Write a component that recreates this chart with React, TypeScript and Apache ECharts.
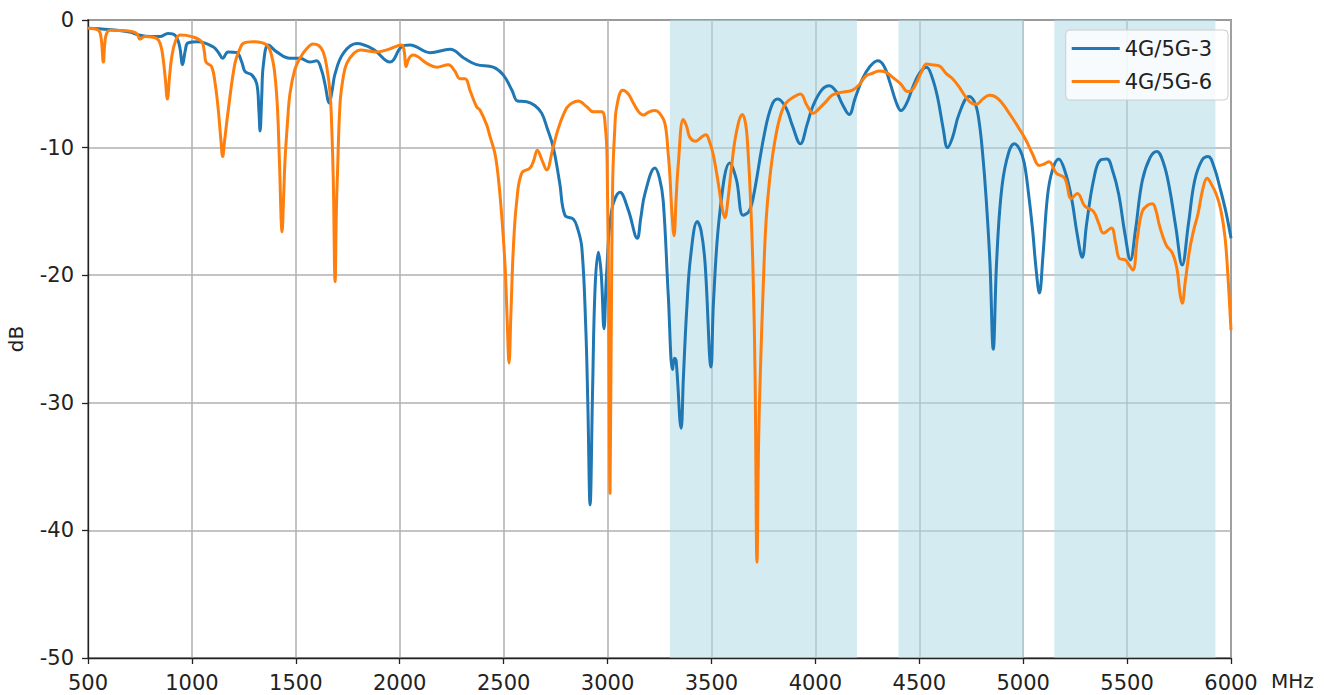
import React, { useEffect, useRef } from "react";
import * as echarts from "echarts";

const seriesNames = ["4G/5G-3", "4G/5G-6"];
const seriesColors = ["#1f77b4", "#ff7f0e"];

const blueFreq = [
  500, 600, 700, 750, 800, 846, 885, 919, 940, 955, 968, 981, 1029, 1102, 1130, 1148, 1174, 1215, 1240, 1256,
  1288, 1312, 1322, 1328, 1336, 1344, 1368, 1408, 1472, 1520, 1568, 1600, 1625, 1640, 1661, 1675, 1689, 1729,
  1793, 1873, 1953, 2009, 2049, 2146, 2242, 2310, 2370, 2450, 2498, 2540, 2567, 2611, 2650, 2683, 2710, 2739,
  2770, 2795, 2835, 2855, 2876, 2895, 2905, 2916, 2928, 2940, 2956, 2970, 2983, 2995, 3020, 3060, 3100, 3143,
  3160, 3180, 3228, 3250, 3268, 3292, 3313, 3322, 3330, 3354, 3365, 3381, 3400, 3432, 3450, 3469, 3498, 3510,
  3541, 3588, 3620, 3652, 3680, 3700, 3755, 3790, 3819, 3859, 3890, 3928, 3960, 3987, 4030, 4067, 4100, 4130,
  4163, 4190, 4227, 4260, 4300, 4330, 4356, 4390, 4412, 4440, 4468, 4500, 4535, 4560, 4588, 4615, 4636, 4660,
  4692, 4740, 4770, 4789, 4805, 4821, 4840, 4856, 4872, 4893, 4920, 4957, 4985, 5005, 5025, 5045, 5062, 5078,
  5095, 5117, 5140, 5171, 5200, 5232, 5260, 5284, 5305, 5338, 5370, 5403, 5430, 5459, 5490, 5516, 5540, 5573,
  5610, 5643, 5675, 5703, 5735, 5765, 5795, 5825, 5860, 5890, 5920, 5946, 5975, 6000,
];
const blueDb = [
  -0.65, -0.75, -0.95, -1.2, -1.3, -1.3, -1.05, -1.2, -2.0, -3.5, -2.4, -1.8, -1.7, -2.1, -2.6, -3.0, -2.5, -2.55, -3.3, -4.05,
  -4.3, -5.0, -7.0, -8.7, -6.0, -3.5, -1.96, -2.5, -3.0, -3.0, -3.3, -3.2, -4.0, -5.0, -6.5, -5.5, -4.2, -2.6,
  -1.85, -2.3, -3.3, -2.1, -1.96, -2.56, -2.3, -3.0, -3.5, -3.7, -4.3, -5.5, -6.35, -6.4, -6.7, -7.3, -8.5, -10.0,
  -12.8, -15.3, -15.6, -16.3, -17.8, -24, -30, -38.0, -29, -21, -18.2, -20, -24.2, -20, -14.9, -13.5, -14.9, -17.1,
  -15.5, -13.6, -11.6, -12.4, -14.2, -21.5, -27.4, -26.5, -26.7, -32.0, -28, -22.7, -18.5, -15.8, -16.5, -19.0, -27.2, -22,
  -15.0, -11.2, -12.5, -15.3, -15.0, -14.0, -8.9, -6.7, -6.2, -6.9, -8.3, -9.7, -8.2, -6.8, -5.5, -5.15, -5.6, -6.6,
  -7.4, -6.2, -4.6, -3.7, -3.2, -3.6, -4.75, -6.5, -7.1, -6.5, -5.3, -4.2, -3.7, -4.4, -6.05, -8.5, -10.0, -9.2,
  -7.35, -6.0, -6.6, -8.1, -10.5, -13.8, -19, -25.8, -19, -13.8, -11.0, -9.7, -10.2, -11.2, -13.5, -16.4, -19.5, -21.4,
  -18.5, -13.8, -11.8, -10.9, -11.8, -13.9, -16.8, -18.6, -16.0, -12.6, -11.0, -10.9, -11.8, -13.6, -16.8, -18.8, -16.5, -12.6,
  -10.8, -10.3, -11.2, -13.1, -16.3, -19.2, -16.0, -12.6, -11.0, -10.7, -11.6, -13.1, -15.0, -17.1,
];

const orangeFreq = [
  500, 550, 563, 574, 585, 606, 686, 734, 750, 774, 830, 850, 862, 872, 882, 892, 903, 920, 943, 999,
  1047, 1060, 1068, 1095, 1112, 1127, 1140, 1148, 1157, 1175, 1207, 1230, 1247, 1295, 1360, 1385, 1400, 1412,
  1421, 1434, 1441, 1448, 1460, 1472, 1495, 1520, 1550, 1584, 1610, 1632, 1650, 1665, 1673, 1680, 1689, 1695,
  1700, 1713, 1728, 1745, 1780, 1809, 1889, 1945, 2009, 2022, 2030, 2045, 2065, 2130, 2178, 2234, 2265, 2290,
  2314, 2340, 2370, 2386, 2418, 2434, 2458, 2474, 2491, 2507, 2517, 2526, 2535, 2547, 2563, 2587, 2627, 2645,
  2662, 2685, 2707, 2735, 2763, 2803, 2830, 2859, 2900, 2932, 2972, 2990, 2998, 3006, 3012, 3018, 3025, 3035,
  3044, 3073, 3100, 3124, 3150, 3172, 3200, 3228, 3250, 3276, 3292, 3300, 3310, 3320, 3330, 3340, 3364, 3380,
  3396, 3425, 3450, 3473, 3490, 3508, 3530, 3550, 3564, 3580, 3596, 3620, 3649, 3665, 3676, 3688, 3700, 3710,
  3719, 3727, 3735, 3750, 3763, 3780, 3803, 3830, 3859, 3900, 3928, 3960, 3990, 4020, 4051, 4080, 4115, 4150,
  4179, 4210, 4243, 4270, 4308, 4340, 4372, 4410, 4444, 4465, 4484, 4510, 4535, 4560, 4596, 4630, 4660, 4690,
  4724, 4750, 4776, 4805, 4837, 4865, 4893, 4920, 4949, 4980, 5013, 5045, 5077, 5100, 5125, 5159, 5200, 5232,
  5261, 5297, 5338, 5365, 5386, 5424, 5445, 5463, 5492, 5510, 5528, 5550, 5573, 5600, 5622, 5640, 5654, 5687,
  5719, 5740, 5755, 5765, 5780, 5800, 5820, 5841, 5865, 5885, 5910, 5930, 5950, 5971, 5985, 6000,
];
const orangeDb = [
  -0.65, -0.8, -1.4, -3.3, -1.3, -0.8, -0.84, -1.05, -1.5, -1.3, -1.44, -2.0, -3.1, -4.6, -6.2, -4.5, -2.9, -1.7, -1.18, -1.3,
  -1.7, -2.5, -3.3, -3.65, -5.0, -7.05, -9.5, -10.7, -9.5, -7.05, -3.4, -2.3, -1.83, -1.7, -1.96, -2.9, -4.4, -7.0,
  -11.0, -16.6, -14.0, -11.0, -8.0, -5.75, -3.9, -3.0, -2.3, -1.88, -2.0, -2.5, -3.8, -5.75, -8.5, -12.3, -20.5, -15.0,
  -12.3, -6.5, -4.5, -3.4, -2.6, -2.35, -2.5, -2.3, -1.96, -2.5, -3.65, -3.0, -2.75, -3.4, -3.7, -3.5, -4.0, -4.6,
  -4.6, -5.6, -6.8, -7.05, -8.2, -9.1, -10.45, -12.3, -15.4, -19.3, -23.5, -26.9, -23, -17.8, -14.2, -12.0, -11.6, -11.0,
  -10.2, -11.0, -11.75, -10.2, -8.5, -6.9, -6.5, -6.35, -6.8, -7.2, -7.2, -8.5, -11.2, -24, -37.1, -24, -12.5, -8.5,
  -6.8, -5.5, -5.8, -6.5, -7.2, -7.45, -7.2, -7.1, -7.3, -8.1, -10.5, -12.2, -15.2, -16.9, -14.0, -11.4, -7.8, -8.3,
  -9.2, -9.5, -9.2, -9.0, -9.5, -10.5, -12.5, -14.6, -15.5, -14.0, -11.6, -8.8, -7.4, -8.2, -10.3, -14.0, -19.7, -28,
  -42.5, -33, -27.8, -20.5, -15.7, -12.5, -9.7, -7.6, -6.5, -6.0, -5.8, -6.7, -7.3, -6.9, -6.4, -5.9, -5.7, -5.6,
  -5.5, -5.1, -4.4, -4.2, -4.0, -4.1, -4.5, -5.0, -5.6, -5.5, -5.0, -4.1, -3.45, -3.5, -3.6, -4.2, -4.6, -5.2,
  -6.05, -6.5, -6.6, -6.2, -5.9, -6.0, -6.4, -7.0, -7.7, -8.5, -9.4, -10.5, -11.4, -11.3, -11.1, -12.0, -12.4, -14.0,
  -13.6, -14.6, -15.0, -16.0, -16.7, -16.3, -17.5, -18.7, -18.8, -19.2, -19.6, -17.0, -15.0, -14.5, -14.4, -15.0, -16.0, -17.6,
  -18.3, -19.5, -21.5, -22.2, -20.5, -18.1, -16.5, -15.2, -13.2, -12.4, -13.0, -13.7, -14.8, -17.0, -20.0, -24.3,
];

const bandStarts = [3300, 4400, 5150];
const bandEnds = [4200, 5000, 5925];

const FONT = "DejaVu Sans";

export default function App() {
  const ref = useRef<HTMLDivElement>(null);
  useEffect(() => {
    if (!ref.current) return;
    const chart = echarts.init(ref.current, null, { renderer: "svg" });
    const pairs = (xs: number[], ys: number[]) => xs.map((x, i) => [x, ys[i]]);
    chart.setOption({
      animation: false,
      backgroundColor: "#ffffff",
      textStyle: { fontFamily: FONT },
      grid: {
        left: 88,
        right: 93,
        top: 20,
        bottom: 37,
        outerBoundsMode: "none",
        containLabel: false,
        show: true,
        borderColor: "#222",
        borderWidth: 1.3,
        backgroundColor: "transparent",
      },
      legend: {
        orient: "vertical",
        right: 96,
        top: 30,
        data: seriesNames,
        icon: "rect",
        itemWidth: 48,
        itemHeight: 3,
        itemGap: 12,
        itemStyle: { borderWidth: 0 },
        itemTextGap: 17,
        padding: [8, 16, 8, 6],
        backgroundColor: "rgba(255,255,255,0.8)",
        borderColor: "#cccccc",
        borderWidth: 1,
        borderRadius: 4,
        textStyle: { fontFamily: FONT, fontSize: 21, color: "#222" },
      },
      xAxis: {
        type: "value",
        min: 500,
        max: 6000,
        interval: 500,
        name: "MHz",
        nameLocation: "end",
        nameGap: 40,
        nameTextStyle: {
          fontFamily: FONT,
          fontSize: 20,
          color: "#222",
          verticalAlign: "top",
          padding: [13, 0, 0, 0],
        },
        axisLine: { show: true, onZero: false, lineStyle: { color: "#222", width: 1.3 } },
        axisTick: { show: true, length: 6, lineStyle: { color: "#222", width: 1.3 } },
        axisLabel: {
          fontFamily: FONT,
          fontSize: 21,
          color: "#222",
          margin: 14,
          formatter: (v: number) => String(v),
        },
        splitLine: { show: true, lineStyle: { color: "#b0b0b0", width: 1.5 } },
      },
      yAxis: {
        type: "value",
        min: -50,
        max: 0,
        interval: 10,
        name: "dB",
        nameLocation: "middle",
        nameGap: 62,
        nameTextStyle: { fontFamily: FONT, fontSize: 20, color: "#222" },
        axisLine: { show: true, onZero: false, lineStyle: { color: "#222", width: 1.3 } },
        axisTick: { show: true, length: 6, lineStyle: { color: "#222", width: 1.3 } },
        axisLabel: {
          fontFamily: FONT,
          fontSize: 21,
          color: "#222",
          margin: 14,
          formatter: (v: number) => String(v),
        },
        splitLine: { show: true, lineStyle: { color: "#b0b0b0", width: 1.5 } },
      },
      series: [
        {
          name: "bands",
          type: "line",
          data: [],
          silent: true,
          z: 1,
          markArea: {
            silent: true,
            itemStyle: { color: "rgba(173,216,230,0.52)" },
            data: bandStarts.map((s, i) => [{ xAxis: s }, { xAxis: bandEnds[i] }]),
          },
        },
        {
          name: seriesNames[0],
          type: "line",
          data: pairs(blueFreq, blueDb),
          showSymbol: false,
          smooth: 0.4,
          z: 3,
          lineStyle: { color: seriesColors[0], width: 3 },
          itemStyle: { color: seriesColors[0] },
        },
        {
          name: seriesNames[1],
          type: "line",
          data: pairs(orangeFreq, orangeDb),
          showSymbol: false,
          smooth: 0.4,
          z: 4,
          lineStyle: { color: seriesColors[1], width: 3 },
          itemStyle: { color: seriesColors[1] },
        },
      ],
    });
    return () => chart.dispose();
  }, []);
  return <div ref={ref} style={{ width: 1324, height: 695, position: "absolute", left: 0, top: 0 }} />;
}
